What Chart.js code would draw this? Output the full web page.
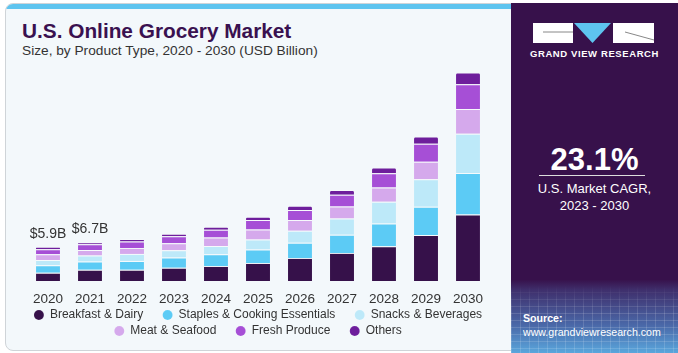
<!DOCTYPE html>
<html>
<head>
<meta charset="utf-8">
<script src="https://cdn.jsdelivr.net/npm/chart.js@4.4.0/dist/chart.umd.min.js"></script>
<style>
  body { margin: 0; width: 678px; height: 353px; background: #fff; font-family: "Liberation Sans", Arial, sans-serif; overflow: hidden; }
  #card { position: absolute; left: 5px; top: 3px; width: 520px; height: 346px; background: #f3f8fb; border: 1px solid #cfd4d8; border-radius: 8px; overflow: hidden; }
  #topbar { position: absolute; left: 0; top: 0; width: 100%; height: 5px; background: #5ec4ef; }
  #title { position: absolute; left: 22px; top: 19px; font-size: 20.8px; font-weight: bold; color: #3a1150; }
  #sub { position: absolute; left: 22px; top: 43px; font-size: 13.7px; color: #333; }
  #chartBox { position: absolute; left: 0; top: 0; width: 512px; height: 353px; }
  #side { position: absolute; left: 511px; top: 3px; width: 167px; height: 350px; background: linear-gradient(to bottom, #37114b 0%, #37114b 79%, #3f2f6c 82%, #4a68a8 92%, #5aa6dc 100%); overflow: hidden; }
  #grid { position: absolute; left: 0; top: 282px; width: 167px; height: 68px;
    background-image: repeating-linear-gradient(to right, rgba(255,255,255,0.14) 0 1px, transparent 1px 9px),
                      repeating-linear-gradient(to bottom, rgba(255,255,255,0.14) 0 1px, transparent 1px 7px);
    -webkit-mask-image: linear-gradient(to bottom, transparent, #000 40%); mask-image: linear-gradient(to bottom, transparent, #000 40%); }
  #brand { position: absolute; left: 0; width: 100%; top: 45px; text-align: center; color: #fff; font-size: 9.5px; font-weight: bold; letter-spacing: 0.6px; }
  #cagr { position: absolute; left: 0; width: 100%; top: 139px; text-align: center; color: #fff; font-size: 31px; font-weight: bold; }
  #rule { position: absolute; left: 28px; width: 106px; top: 172px; height: 1px; background: #ddd; }
  #cagrTxt { position: absolute; left: 0; width: 100%; top: 177px; text-align: center; color: #fff; font-size: 13px; line-height: 17px; }
  #src { position: absolute; left: 12px; top: 308px; color: #fff; font-size: 10.6px; line-height: 14px; }
</style>
</head>
<body>
<div id="card"><div id="topbar"></div></div>
<div id="title">U.S. Online Grocery Market</div>
<div id="sub">Size, by Product Type, 2020 - 2030 (USD Billion)</div>
<div id="chartBox"><canvas id="chart" width="512" height="353"></canvas></div>
<div id="side">
  <div id="grid"></div>
  <svg style="position:absolute;left:22px;top:20px" width="122" height="20" viewBox="0 0 122 20">
    <rect x="0" y="0" width="40" height="20" fill="#fff"/>
    <line x1="10" y1="9" x2="40" y2="9" stroke="#888" stroke-width="1"/>
    <polygon points="41,0 78,0 59.5,20" fill="#5ec4ef"/>
    <rect x="80" y="0" width="41" height="20" fill="#fff"/>
    <line x1="92" y1="9" x2="121" y2="17" stroke="#888" stroke-width="1"/>
  </svg>
  <div id="brand">GRAND VIEW RESEARCH</div>
  <div id="cagr">23.1%</div>
  <div id="rule"></div>
  <div id="cagrTxt">U.S. Market CAGR,<br>2023 - 2030</div>
  <div id="src"><b>Source:</b><br>www.grandviewresearch.com</div>
</div>
<script>
const years = ["2020","2021","2022","2023","2024","2025","2026","2027","2028","2029","2030"];
const breakfastDairy = [1.44, 1.95, 1.96, 2.31, 2.60, 3.12, 3.99, 4.86, 6.02, 7.93, 11.50];
const staples = [1.28, 1.40, 1.51, 1.74, 2.03, 2.31, 2.60, 3.12, 3.92, 4.91, 7.18];
const snacks = [0.92, 1.04, 1.21, 1.28, 1.44, 1.74, 2.08, 2.83, 3.77, 4.74, 6.77];
const meatSeafood = [0.99, 0.97, 1.04, 1.21, 1.44, 1.74, 1.86, 2.08, 2.43, 3.02, 4.27];
const freshProduce = [0.87, 0.98, 1.09, 1.21, 1.34, 1.63, 1.74, 2.03, 2.48, 3.12, 4.29];
const others = [0.40, 0.36, 0.47, 0.40, 0.52, 0.57, 0.75, 0.82, 0.99, 1.27, 2.03];
const totalLabels = ["$5.9B", "$6.7B", "", "", "", "", "", "", "", "", ""];

const series = [
  ["Breakfast & Dairy", breakfastDairy, "#36114a"],
  ["Staples & Cooking Essentials", staples, "#5ccbf5"],
  ["Snacks & Beverages", snacks, "#bde9f9"],
  ["Meat & Seafood", meatSeafood, "#d5a9ec"],
  ["Fresh Produce", freshProduce, "#a64fd6"],
  ["Others", others, "#6e1e9c"]
];
// legend items that end a row get no extra gap after them
const rowEnds = [2, 5];

const totalsPlugin = {
  id: "totals",
  afterDatasetsDraw(chart) {
    const ctx = chart.ctx;
    const meta = chart.getDatasetMeta(chart.data.datasets.length - 1);
    ctx.save();
    ctx.font = "14px 'Liberation Sans', Arial, sans-serif";
    ctx.fillStyle = "#333";
    ctx.textAlign = "center";
    ctx.textBaseline = "bottom";
    meta.data.forEach((bar, i) => {
      if (totalLabels[i]) ctx.fillText(totalLabels[i], bar.x, bar.y - 6);
    });
    ctx.restore();
  }
};

const ctx = document.getElementById("chart").getContext("2d");
new Chart(ctx, {
  type: "bar",
  data: {
    labels: years,
    datasets: series.map((s, i) => ({
      label: s[0],
      data: s[1],
      backgroundColor: s[2],
      borderColor: "rgba(255,255,255,0.25)",
      borderWidth: { top: 1 },
      borderSkipped: false,
      borderRadius: i === series.length - 1 ? { topLeft: 2, topRight: 2 } : 0,
      barPercentage: 0.57,
      categoryPercentage: 1
    }))
  },
  options: {
    responsive: false,
    animation: false,
    layout: { padding: { left: 27, right: 23, top: 60, bottom: 6 } },
    plugins: {
      tooltip: { enabled: false },
      legend: {
        position: "bottom",
        labels: {
          usePointStyle: true,
          pointStyle: "circle",
          boxWidth: 10,
          boxHeight: 7,
          padding: 4,
          color: "#333",
          font: { size: 12, family: "'Liberation Sans', Arial, sans-serif" },
          generateLabels(chart) {
            const items = Chart.defaults.plugins.legend.labels.generateLabels(chart);
            items.forEach((it, i) => {
              if (!rowEnds.includes(i)) it.text += "\u2003 ";
            });
            return items;
          }
        }
      }
    },
    scales: {
      x: {
        stacked: true,
        grid: { display: false, drawTicks: false },
        border: { display: false },
        ticks: { color: "#333", font: { size: 13.5, family: "'Liberation Sans', Arial, sans-serif" }, padding: 10 },
        afterFit(scale) { scale.height = 24; }
      },
      y: {
        stacked: true,
        display: false,
        min: 0,
        max: 38.2
      }
    }
  },
  plugins: [totalsPlugin]
});
</script>
</body>
</html>
